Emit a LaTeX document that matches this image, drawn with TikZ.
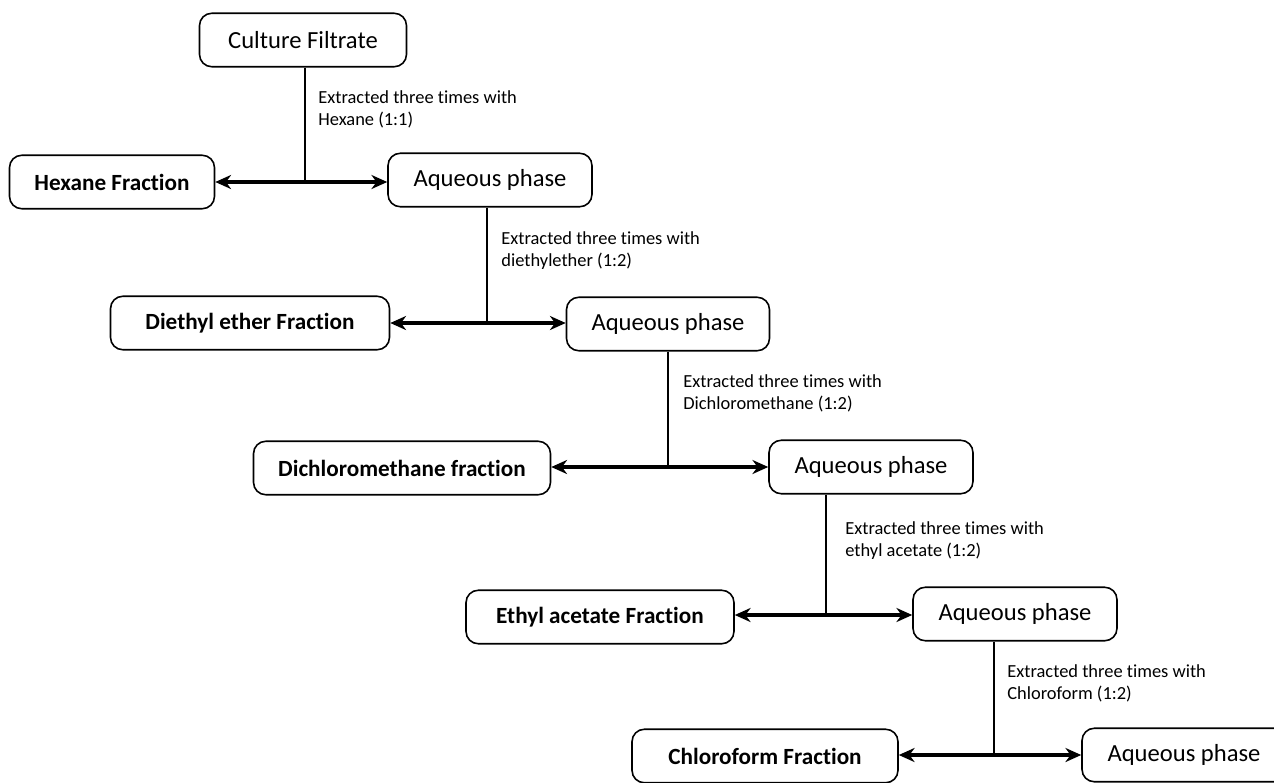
\documentclass[tikz,border=0pt]{standalone}
\usepackage{fontspec}
\setmainfont{Carlito}[RawFeature=-liga]
\usetikzlibrary{arrows.meta}

\tikzset{
    box/.style = {draw, line width = 0.9pt, rounded corners = 7pt, minimum height = 1.07cm, inner sep = 0pt, font = \fontsize{14}{16}\selectfont},
    fraction/.style = {box, font = \fontsize{13.2}{16}\selectfont\bfseries},
    note/.style = {anchor = west, align = left, inner sep = 0pt, font = \fontsize{10.5}{12.5}\selectfont},
    split/.style = {line width = 1.8pt, {Stealth[length = 9pt, width = 8pt]}-{Stealth[length = 9pt, width = 8pt]}},
    feed/.style = {line width = 1pt}
}

\begin{document}
\begin{tikzpicture}[x = 0.02cm, y = -0.02cm]
    \useasboundingbox (0,0) rectangle (1274,782);
    \clip (0,0) rectangle (1274,782);

    % boxes
    \node[box, minimum width = 4.14cm] (culture) at (303,40) {Culture Filtrate};
    \node[fraction, minimum width = 4.1cm] (hexane) at (112,182) {Hexane Fraction};
    \node[box, minimum width = 4.08cm] (aq1) at (490,180) {Aqueous phase};
    \node[fraction, minimum width = 5.58cm] (ether) at (250,323) {Diethyl ether Fraction};
    \node[box, minimum width = 4.06cm] (aq2) at (668,324) {Aqueous phase};
    \node[fraction, minimum width = 5.94cm] (dcm) at (402,468) {Dichloromethane fraction};
    \node[box, minimum width = 4.08cm] (aq3) at (871,467) {Aqueous phase};
    \node[fraction, minimum width = 5.36cm] (ethyl) at (600,617) {Ethyl acetate Fraction};
    \node[box, minimum width = 4.08cm] (aq4) at (1015,614) {Aqueous phase};
    \node[fraction, minimum width = 5.32cm] (chloro) at (765,756) {Chloroform Fraction};
    \node[box, minimum width = 4.08cm] (aq5) at (1184,755) {Aqueous phase};

    % junctions
    \coordinate (j1) at (305,182);
    \coordinate (j2) at (487,323);
    \coordinate (j3) at (668,467);
    \coordinate (j4) at (826,615);
    \coordinate (j5) at (994,755);

    % connectors
    \draw[feed] (culture.south -| j1) -- (j1);
    \draw[split] (j1 -| hexane.east) -- (j1) -- (j1 -| aq1.west);
    \draw[feed] (aq1.south -| j2) -- (j2);
    \draw[split] (j2 -| ether.east) -- (j2) -- (j2 -| aq2.west);
    \draw[feed] (aq2.south -| j3) -- (j3);
    \draw[split] (j3 -| dcm.east) -- (j3) -- (j3 -| aq3.west);
    \draw[feed] (aq3.south -| j4) -- (j4);
    \draw[split] (j4 -| ethyl.east) -- (j4) -- (j4 -| aq4.west);
    \draw[feed] (aq4.south -| j5) -- (j5);
    \draw[split] (j5 -| chloro.east) -- (j5) -- (j5 -| aq5.west);

    % solvent notes
    \node[note] (n1) at (318,109) {Extracted three times with\\Hexane (1:1)};
    \node[note] (n2) at (501,251) {Extracted three times with\\diethylether (1:2)};
    \node[note] (n3) at (683,393) {Extracted three times with\\Dichloromethane (1:2)};
    \node[note] (n4) at (845,541) {Extracted three times with\\ethyl acetate (1:2)};
    \node[note] (n5) at (1007,683) {Extracted three times with\\Chloroform (1:2)};
\end{tikzpicture}
\end{document}
